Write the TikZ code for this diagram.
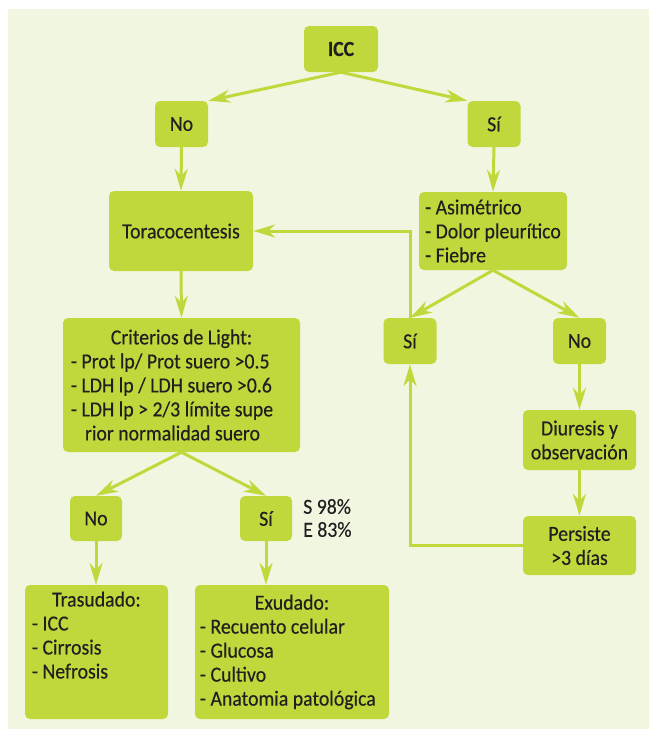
\documentclass[tikz,border=0pt]{standalone}
\usepackage{fontspec}
\setmainfont{Carlito}[FakeStretch=0.92, FakeBold=0.35]
\usetikzlibrary{arrows.meta}
\definecolor{panel}{RGB}{241,246,225}
\definecolor{lime}{RGB}{192,216,59}
\definecolor{ink}{RGB}{35,31,32}
% align=left with a text width forces wide word spaces; restore the font's own
\newcommand\fontspaces{\spaceskip=0pt\xspaceskip=0pt\relax}
\begin{document}
\begin{tikzpicture}[x=1pt, y=-1pt,
  box/.style={fill=lime, rounded corners=5pt, inner sep=0pt, text=ink,
              font=\fontsize{21.5}{24}\selectfont},
  conn/.style={draw=lime, line width=3pt,
               -{Stealth[length=22pt, width=13pt, inset=7pt]}},
  note/.style={inner sep=0pt, text=ink, font=\fontsize{21.5}{23}\selectfont, align=left}]

% page and panel
\useasboundingbox (0,0) rectangle (649,729);
\fill[panel] (8,9) rectangle (649,729);

% first decision
\node[box, minimum width=74pt, minimum height=46pt,
      font=\fontsize{21.5}{24}\selectfont\bfseries] (icc) at (341,49) {ICC};
\node[box, minimum width=53pt, minimum height=46pt] (no1) at (181.5,124) {No};
\node[box, minimum width=53pt, minimum height=46pt] (si1) at (494,124) {Sí};

% second level
\node[box, minimum width=144pt, minimum height=80pt] (tora) at (181,231) {Toracocentesis};
\node[box, minimum width=148pt, minimum height=78pt, align=left] (asim) at (493,231)
  {- Asimétrico\\- Dolor pleurítico\\- Fiebre};

% Light criteria
\node[box, minimum width=237pt, minimum height=134pt, text width=221pt, align=left] (crit)
  at (181.5,385)
  {\fontspaces\makebox[\linewidth]{Criterios de Light:}\\
   \mbox{- Prot lp/ Prot suero >0.5}\\
   \mbox{- LDH lp / LDH suero >0.6}\\
   \mbox{- LDH lp > 2/3 límite supe}\\
   \mbox{\hspace*{14pt}rior normalidad suero}};

% right branch
\node[box, minimum width=53pt, minimum height=46pt] (si2) at (410,341) {Sí};
\node[box, minimum width=53pt, minimum height=46pt] (no2) at (579.5,341) {No};
\node[box, minimum width=113pt, minimum height=60pt, align=center] (diur) at (579.5,440)
  {Diuresis y\\observación};
\node[box, minimum width=113pt, minimum height=59pt, align=center] (pers) at (579.5,545.5)
  {Persiste\\>3 días};

% left branch results
\node[box, minimum width=52pt, minimum height=45pt] (no3) at (96,518.5) {No};
\node[box, minimum width=52pt, minimum height=45pt] (si3) at (266,518.5) {Sí};
\node[note, anchor=west] (stats) at (303,518) {S 98\%\\E 83\%};

\node[box, minimum width=143pt, minimum height=134pt, text width=129pt, align=left,
      text depth=106pt] (tras) at (96.5,652)
  {\fontspaces\makebox[\linewidth]{Trasudado:}\\\mbox{- ICC}\\\mbox{- Cirrosis}\\\mbox{- Nefrosis}};
\node[box, minimum width=194pt, minimum height=134pt, text width=184pt, align=left] (exud)
  at (292,652)
  {\fontspaces\makebox[\linewidth]{Exudado:}\\\mbox{- Recuento celular}\\\mbox{- Glucosa}\\
   \mbox{- Cultivo}\\\mbox{- Anatomia patológica}};

% connectors
\draw[conn] (icc.south) -- (no1.north east);
\draw[conn] (icc.south) -- (si1.north west);
\draw[conn] (no1.south) -- (tora.north);
\draw[conn] (si1.south) -- (asim.north);
\draw[conn] (tora.south) -- (crit.north);
\draw[conn] (asim.south) -- (si2.north);
\draw[conn] (asim.south) -- (no2.north);
\draw[conn] (si2.north) |- (tora.east);
\draw[conn] (no2.south) -- (diur.north);
\draw[conn] (diur.south) -- (pers.north);
\draw[conn] (pers.west) -| (si2.south);
\draw[conn] (crit.south) -- (no3.north);
\draw[conn] (crit.south) -- (si3.north);
\draw[conn] (no3.south) -- (no3.south |- tras.north);
\draw[conn] (si3.south) -- (si3.south |- exud.north);
\end{tikzpicture}
\end{document}
